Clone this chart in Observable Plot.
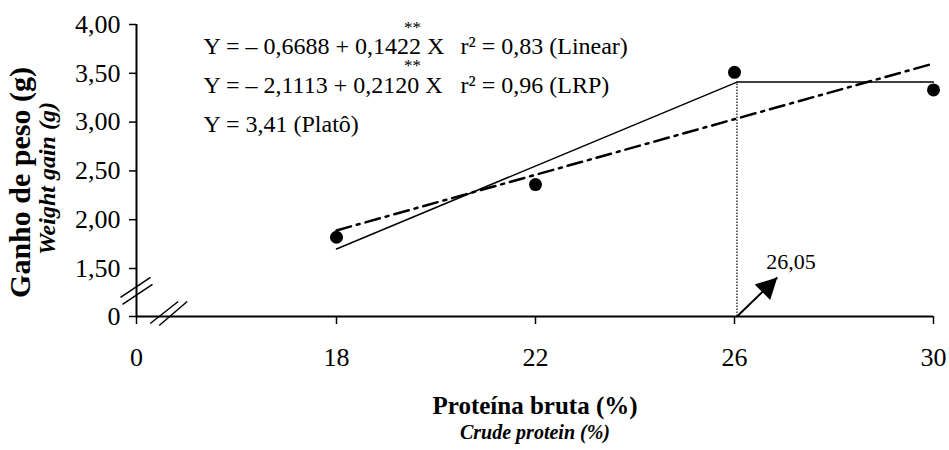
<!DOCTYPE html>
<html><head><meta charset="utf-8">
<script src="https://cdn.jsdelivr.net/npm/d3@7"></script>
<script src="https://cdn.jsdelivr.net/npm/@observablehq/plot@0.6"></script>
<style>body{margin:0;background:#fff}</style>
</head><body><div id="chart"></div>
<script>
// observed means
const crudeProtein = [18, 22, 26, 30];
const weightGain = [1.82, 2.36, 3.51, 3.33];
// fitted lines (end points)
const linearX = [18, 30];
const linearY = [1.89, 3.60];
const lrpX = [18, 26.05, 30];
const lrpY = [1.70, 3.41, 3.41];
const breakpoint = 26.05;
const plateau = 3.41;
const breakLabel = "26,05";
const arrowTip = [26.86, 1.22];
const labelAt = [26.64, 1.5];
// axis
const xTicks = [0, 18, 22, 26, 30];
const yTicks = [0, 1.5, 2, 2.5, 3, 3.5, 4];
const xBreak = [2.9, 0];
const yBreak = [0, 0.8];
// texts
const equations = ["Y = – 0,6688 + 0,1422 X", "Y = – 2,1113 + 0,2120 X", "Y = 3,41 (Platô)"];
const rSquared = ["r² = 0,83 (Linear)", "r² = 0,96 (LRP)"];
const significance = "**";
const yTitle = "Ganho de peso (g)";
const yTitleEn = "Weight gain (g)";
const xTitle = "Proteína bruta (%)";
const xTitleEn = "Crude protein (%)";

const points = crudeProtein.map((x, i) => ({x, y: weightGain[i]}));
const linear = linearX.map((x, i) => ({x, y: linearY[i]}));
const lrp = lrpX.map((x, i) => ({x, y: lrpY[i]}));

const F = "'Liberation Serif', 'Times New Roman', serif";
const yBreakSym = {draw(c) {
  c.moveTo(-16, 6.5); c.lineTo(14, -13.5);
  c.moveTo(-14, 13.5); c.lineTo(16, -6.5);
}};
const xBreakSym = {draw(c) {
  c.moveTo(-18.5, 7); c.lineTo(9.5, -15);
  c.moveTo(-9.5, 9); c.lineTo(18.5, -15);
}};
const headSym = {draw(c) {
  c.moveTo(0, 0); c.lineTo(11, 21); c.lineTo(-11, 21); c.closePath();
}};

const fmtY = d => d === 0 ? "0" : d.toFixed(2).replace(".", ",");

const chart = Plot.plot({
  width: 949, height: 450,
  marginLeft: 136, marginRight: 16, marginTop: 24, marginBottom: 134,
  style: {fontFamily: F, fontSize: "26px", color: "black", background: "white", overflow: "visible"},
  x: {type: "linear", domain: [0, 18, 30], range: [136, 336, 933]},
  y: {type: "linear", domain: [0, 1.5, 4], range: [316, 268, 24]},
  marks: [
    Plot.axisX(xTicks, {tickSize: 8, tickPadding: 23, tickFormat: d => String(d), label: null, strokeWidth: 1.5}),
    Plot.axisY(yTicks, {tickSize: 7, tickPadding: 9, tickFormat: fmtY, label: null, strokeWidth: 1.5}),
    Plot.ruleY([0], {x1: 0, x2: 30, strokeWidth: 2}),
    Plot.ruleX([0], {y1: 0, y2: 4, strokeWidth: 2}),
    Plot.dot([xBreak], {x: d => d[0], y: d => d[1], symbol: xBreakSym, r: 5, stroke: "black", strokeWidth: 1.5, fill: "none"}),
    Plot.dot([yBreak], {x: d => d[0], y: d => d[1], symbol: yBreakSym, r: 5, stroke: "black", strokeWidth: 1.5, fill: "none"}),
    Plot.ruleX([breakpoint], {y1: 0, y2: plateau, strokeDasharray: "1.5,1.5", strokeWidth: 1.2}),
    Plot.line(linear, {x: "x", y: "y", stroke: "black", strokeWidth: 2.5, strokeDasharray: "15,6,3,6"}),
    Plot.line(lrp, {x: "x", y: "y", stroke: "black", strokeWidth: 1.5}),
    Plot.dot(points, {x: "x", y: "y", r: 6.5, fill: "black"}),
    Plot.link([0], {x1: () => breakpoint, y1: () => 0, x2: () => arrowTip[0], y2: () => arrowTip[1], stroke: "black", strokeWidth: 2}),
    Plot.dot([arrowTip], {x: d => d[0], y: d => d[1], symbol: headSym, r: 5, fill: "black", rotate: 45}),
    Plot.text([breakLabel], {x: () => labelAt[0], y: () => labelAt[1], text: d => d, textAnchor: "start", lineAnchor: "bottom", fontSize: 22}),
    // equations
    Plot.text([equations[0]], {frameAnchor: "top-left", dx: 67, dy: 29, text: d => d, textAnchor: "start", lineAnchor: "bottom", fontSize: 24}),
    Plot.text([equations[1]], {frameAnchor: "top-left", dx: 67, dy: 68, text: d => d, textAnchor: "start", lineAnchor: "bottom", fontSize: 24}),
    Plot.text([equations[2]], {frameAnchor: "top-left", dx: 67, dy: 107, text: d => d, textAnchor: "start", lineAnchor: "bottom", fontSize: 24}),
    Plot.text([rSquared[0]], {frameAnchor: "top-left", dx: 324, dy: 29, text: d => d, textAnchor: "start", lineAnchor: "bottom", fontSize: 24}),
    Plot.text([rSquared[1]], {frameAnchor: "top-left", dx: 324, dy: 68, text: d => d, textAnchor: "start", lineAnchor: "bottom", fontSize: 24}),
    Plot.text([significance], {frameAnchor: "top-left", dx: 276, dy: 8, text: d => d, textAnchor: "middle", lineAnchor: "bottom", fontSize: 17}),
    Plot.text([significance], {frameAnchor: "top-left", dx: 276, dy: 46, text: d => d, textAnchor: "middle", lineAnchor: "bottom", fontSize: 17}),
    // titles
    Plot.text([yTitle], {frameAnchor: "left", dx: -107, dy: 12, rotate: -90, text: d => d, textAnchor: "middle", lineAnchor: "bottom", fontSize: 30, fontWeight: "bold"}),
    Plot.text([yTitleEn], {frameAnchor: "left", dx: -82, dy: 8, rotate: -90, text: d => d, textAnchor: "middle", lineAnchor: "bottom", fontSize: 24, fontWeight: "bold", fontStyle: "italic"}),
    Plot.text([xTitle], {frameAnchor: "bottom", dy: 97, text: d => d, textAnchor: "middle", lineAnchor: "bottom", fontSize: 25, fontWeight: "bold"}),
    Plot.text([xTitleEn], {frameAnchor: "bottom", dy: 122, text: d => d, textAnchor: "middle", lineAnchor: "bottom", fontSize: 20, fontWeight: "bold", fontStyle: "italic"})
  ]
});
document.getElementById("chart").appendChild(chart);
</script>
</body></html>
